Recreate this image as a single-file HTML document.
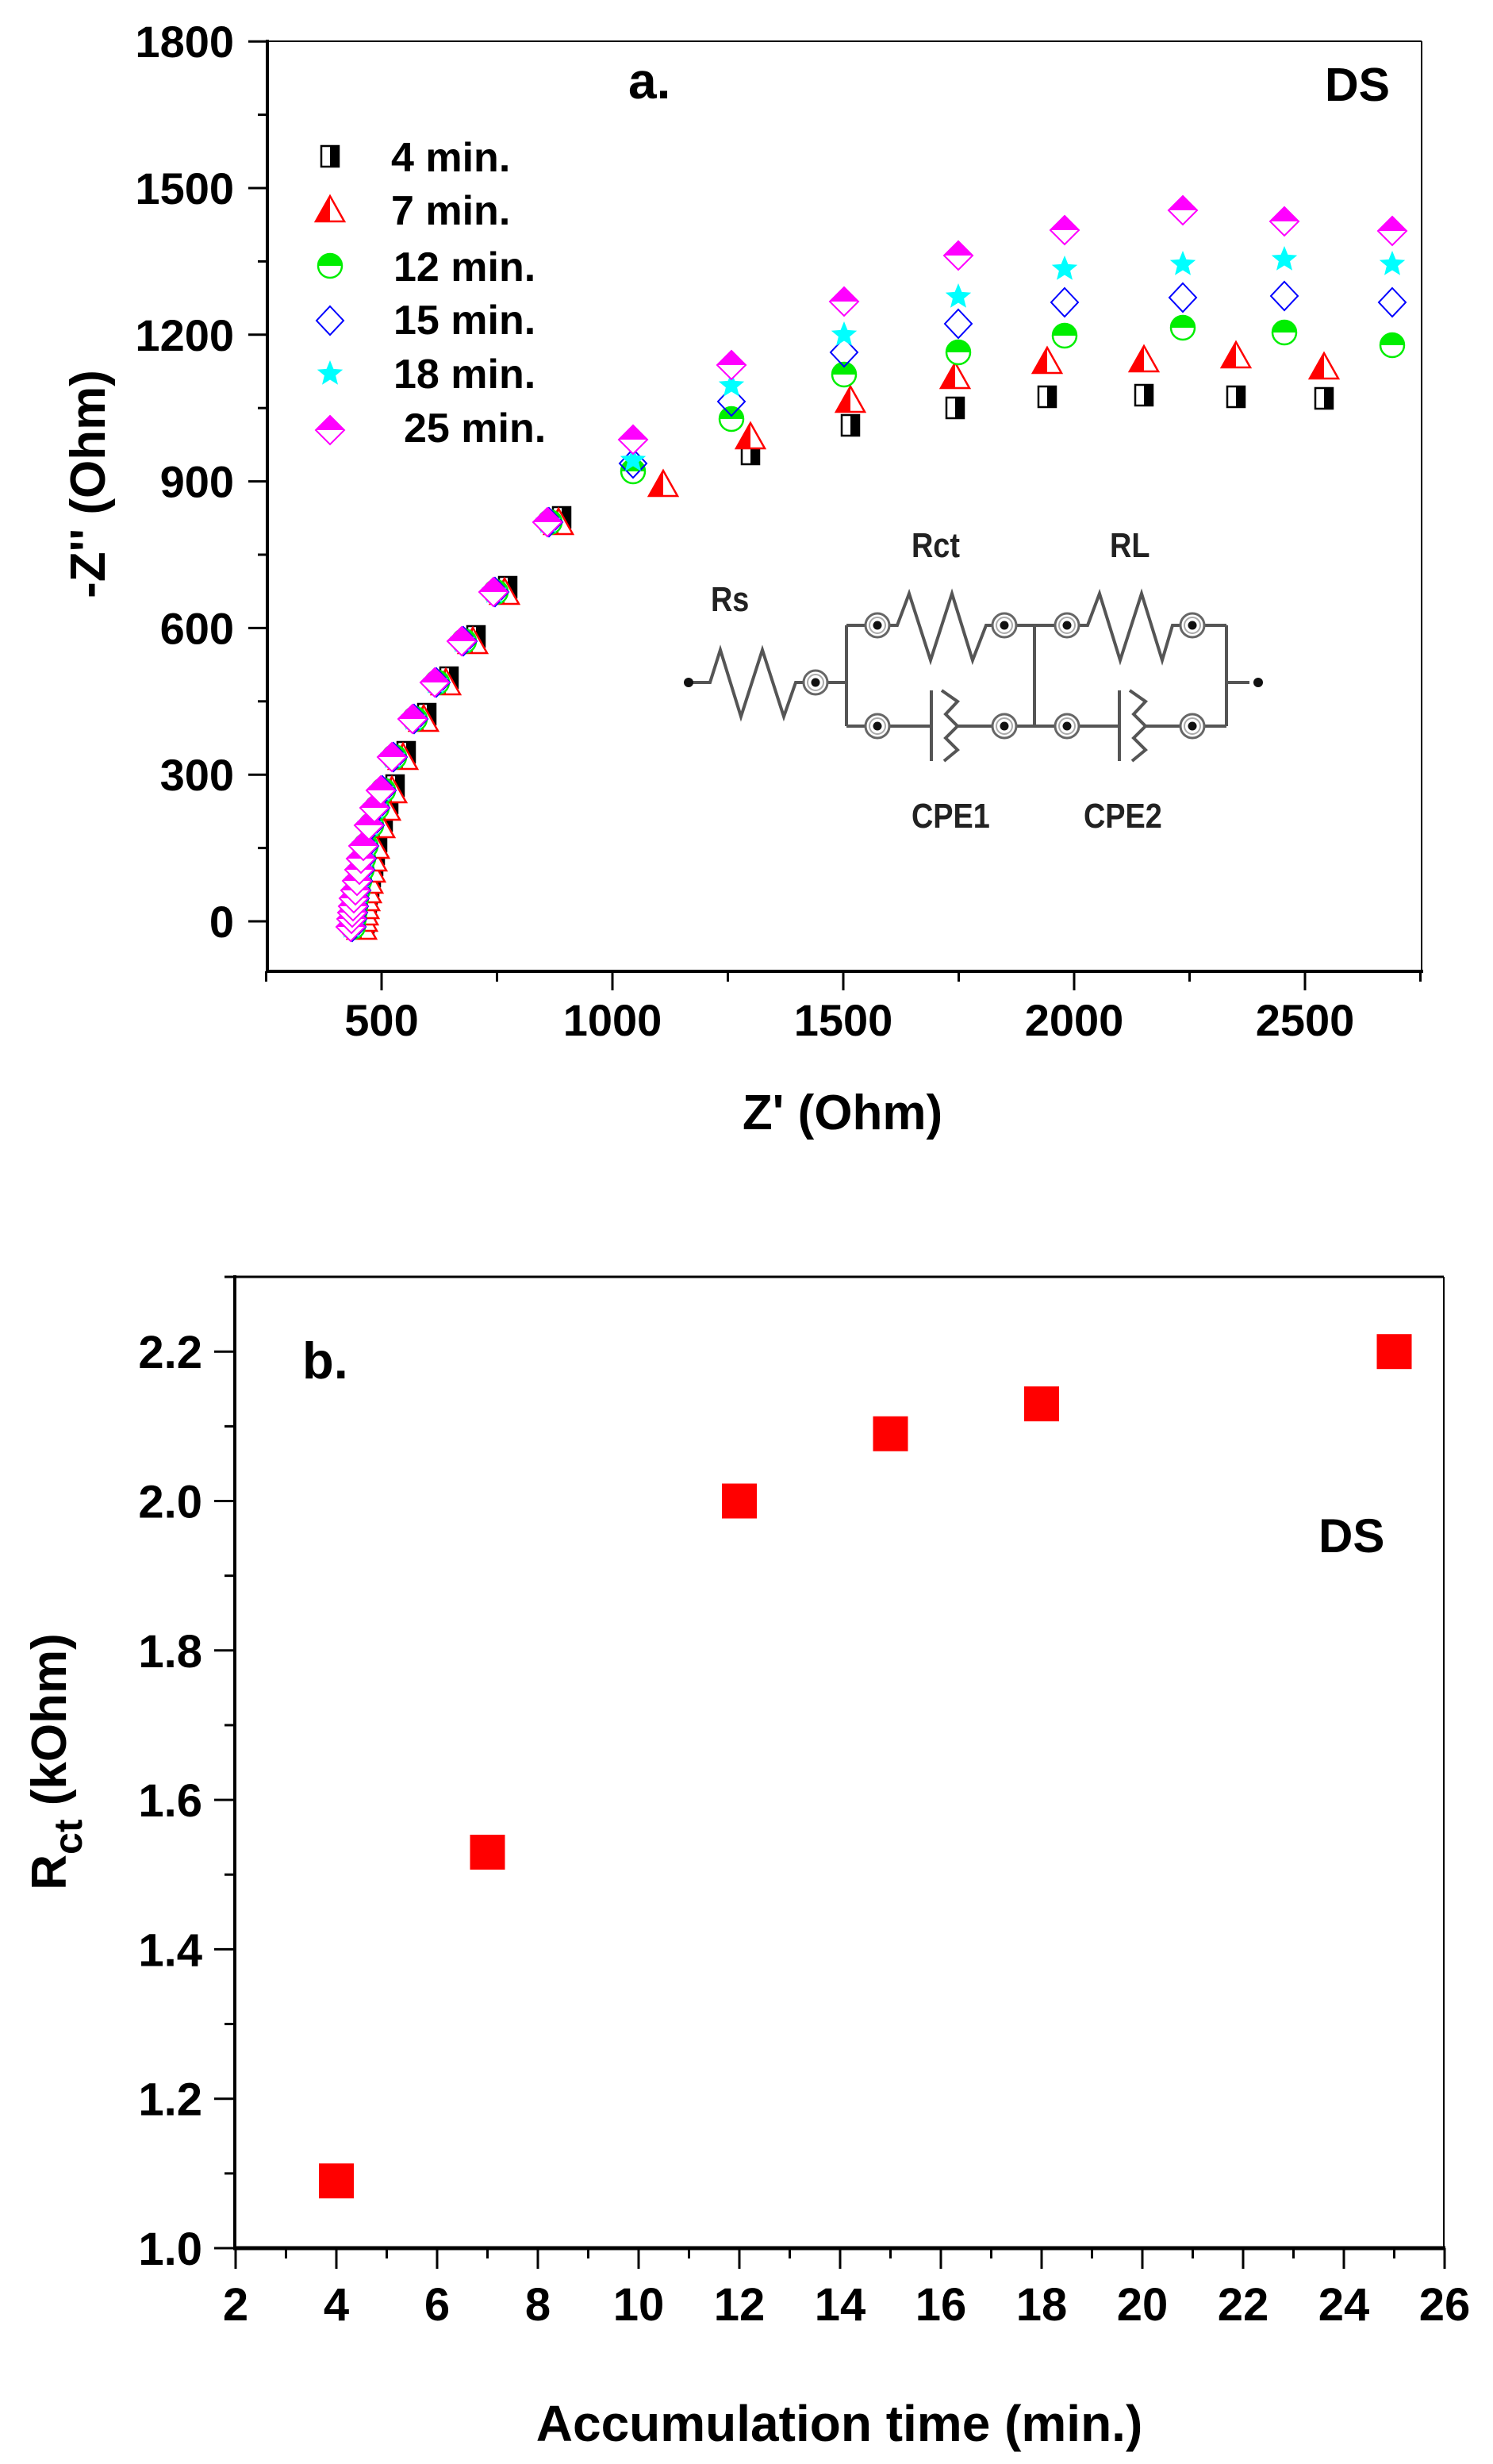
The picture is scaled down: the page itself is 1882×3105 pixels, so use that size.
<!DOCTYPE html>
<html><head><meta charset="utf-8">
<style>
html,body{margin:0;padding:0;background:#fff;}
svg{display:block;}
text{font-family:"Liberation Sans",Arial,sans-serif;font-weight:bold;fill:#000;}
.c text{fill:#222;}
</style></head>
<body>
<svg id="s" width="1882" height="3105" viewBox="0 0 1882 3105" xmlns="http://www.w3.org/2000/svg">
<rect width="1882" height="3105" fill="#fff"/>
<line x1="337" y1="52" x2="1792" y2="52" stroke="#000" stroke-width="2"/>
<line x1="1792" y1="52" x2="1792" y2="1224" stroke="#000" stroke-width="2"/>
<line x1="337" y1="50" x2="337" y2="1226" stroke="#000" stroke-width="4"/>
<line x1="335" y1="1224" x2="1794" y2="1224" stroke="#000" stroke-width="4"/>
<g id="topticks"></g>
<text x="792" y="124" font-size="64">a.</text>
<text x="1670" y="127" font-size="59">DS</text>
<text transform="translate(132,610) rotate(-90)" text-anchor="middle" font-size="62">-Z'' (Ohm)</text>
<text x="1062" y="1423" text-anchor="middle" font-size="62">Z' (Ohm)</text>
<text x="493" y="216" font-size="52">4 min.</text>
<text x="493" y="283" font-size="52">7 min.</text>
<text x="496" y="354" font-size="52">12 min.</text>
<text x="496" y="421" font-size="52">15 min.</text>
<text x="496" y="489" font-size="52">18 min.</text>
<text x="509" y="557" font-size="52">25 min.</text>
<g class="c" fill="none" stroke="#555" stroke-width="4" stroke-linejoin="miter">
<polyline points="868,860 895,860 908,819 934,903 961,819 988,903 1003,860 1013,860"/>
<line x1="1043" y1="860" x2="1067" y2="860"/>
<line x1="1067" y1="788" x2="1067" y2="915"/>
<line x1="1067" y1="788" x2="1091" y2="788"/>
<polyline points="1121,788 1131,788 1146,748 1173,832 1200,748 1226,832 1243,788 1251,788"/>
<line x1="1281" y1="788" x2="1330" y2="788"/>
<line x1="1067" y1="915" x2="1091" y2="915"/>
<line x1="1121" y1="915" x2="1174" y2="915"/>
<line x1="1174" y1="870" x2="1174" y2="959"/>
<polyline points="1187,870 1207,884 1192,900 1207,915 1192,930 1207,945 1190,959"/>
<line x1="1205" y1="915" x2="1251" y2="915"/>
<line x1="1281" y1="915" x2="1330" y2="915"/>
<line x1="1304" y1="788" x2="1304" y2="915"/>
<polyline points="1360,788 1371,788 1386,748 1412,832 1439,748 1465,832 1478,788 1488,788"/>
<line x1="1518" y1="788" x2="1546" y2="788"/>
<line x1="1360" y1="915" x2="1411" y2="915"/>
<line x1="1411" y1="870" x2="1411" y2="959"/>
<polyline points="1424,870 1444,884 1429,900 1444,915 1429,930 1444,945 1427,959"/>
<line x1="1442" y1="915" x2="1488" y2="915"/>
<line x1="1518" y1="915" x2="1546" y2="915"/>
<line x1="1546" y1="788" x2="1546" y2="915"/>
<line x1="1546" y1="860" x2="1575" y2="860"/>
<g id="nodes"></g>
</g>
<circle cx="868" cy="860" r="6" fill="#111"/>
<circle cx="1586" cy="860" r="6" fill="#111"/>
<g class="c">
<text x="896" y="770" font-size="44" transform="translate(896,0) scale(0.86,1) translate(-896,0)">Rs</text>
<text x="1149" y="702" font-size="44" transform="translate(1149,0) scale(0.86,1) translate(-1149,0)">Rct</text>
<text x="1399" y="702" font-size="44" transform="translate(1399,0) scale(0.86,1) translate(-1399,0)">RL</text>
<text x="1149" y="1043" font-size="44" transform="translate(1149,0) scale(0.86,1) translate(-1149,0)">CPE1</text>
<text x="1366" y="1043" font-size="44" transform="translate(1366,0) scale(0.86,1) translate(-1366,0)">CPE2</text>
</g>
<g id="markers"></g>

<line x1="296" y1="1609" x2="1820" y2="1609" stroke="#000" stroke-width="3"/>
<line x1="1820" y1="1609" x2="1820" y2="2833" stroke="#000" stroke-width="2"/>
<line x1="296" y1="1607" x2="296" y2="2835" stroke="#000" stroke-width="4"/>
<line x1="294" y1="2833" x2="1822" y2="2833" stroke="#000" stroke-width="5"/>
<g id="botticks"></g>
<text x="381" y="1737" font-size="65">b.</text>
<text x="1662" y="1956" font-size="60">DS</text>
<text transform="translate(83,2220) rotate(-90)" text-anchor="middle" font-size="62">R<tspan font-size="50" dy="20">ct</tspan><tspan dy="-20"> (kOhm)</tspan></text>
<text x="1058" y="3076" text-anchor="middle" font-size="64">Accumulation time (min.)</text>
<g id="bm"></g>
</svg>
<script>
var NS="http://www.w3.org/2000/svg";
function el(p,t,a,txt){var e=document.createElementNS(NS,t);for(var k in a)e.setAttribute(k,a[k]);if(txt!=null)e.textContent=txt;p.appendChild(e);return e;}
var tt=document.getElementById('topticks');
function tx(v){return 481+(v-500)*0.582;}
function ty(v){return 1161-v*0.616;}
for(var v=250;v<=2750;v+=250){var x=tx(v);var maj=(v%500==0);
 el(tt,'line',{x1:x,y1:1224,x2:x,y2:1224+(maj?24:13),stroke:'#000','stroke-width':3});
 if(maj) el(tt,'text',{x:x,y:1305,'text-anchor':'middle','font-size':56},String(v));}
for(var v=-150;v<=1800;v+=150){var y=ty(v);if(y>1222)continue;var maj=(v%300==0);
 el(tt,'line',{x1:337,y1:y,x2:337-(maj?24:12),y2:y,stroke:'#000','stroke-width':3});
 if(maj) el(tt,'text',{x:295,y:y+20,'text-anchor':'end','font-size':56},String(v));}
var nd=document.getElementById('nodes');
[[1028,860],[1106,788],[1266,788],[1106,915],[1266,915],[1345,788],[1503,788],[1345,915],[1503,915]].forEach(function(p){
 el(nd,'circle',{cx:p[0],cy:p[1],r:15,stroke:'#666','stroke-width':3,fill:'#fff'});
 el(nd,'circle',{cx:p[0],cy:p[1],r:10,stroke:'#aaa','stroke-width':2,fill:'none'});
 el(nd,'circle',{cx:p[0],cy:p[1],r:5.5,fill:'#111',stroke:'none'});});
var mg=document.getElementById('markers');
function sq(x,y){el(mg,'rect',{x:x-11,y:y-13,width:22,height:26,fill:'#fff',stroke:'#000','stroke-width':2.5});el(mg,'rect',{x:x,y:y-13,width:11,height:26,fill:'#000'});}
function tri(x,y){var c='#f00';el(mg,'polygon',{points:(x-18)+','+(y+15)+' '+x+','+(y-17)+' '+(x+18)+','+(y+15),fill:'#fff',stroke:c,'stroke-width':2.5});el(mg,'polygon',{points:(x-18)+','+(y+15)+' '+x+','+(y-17)+' '+x+','+(y+15),fill:c});}
function cir(x,y){var c='#0e0';el(mg,'circle',{cx:x,cy:y,r:15,fill:'#fff',stroke:c,'stroke-width':2.5});el(mg,'path',{d:'M'+(x-15)+','+y+' A15,15 0 0 1 '+(x+15)+','+y+' Z',fill:c});}
function dia(x,y){el(mg,'polygon',{points:x+','+(y-18)+' '+(x+17)+','+y+' '+x+','+(y+18)+' '+(x-17)+','+y,fill:'none',stroke:'#00f','stroke-width':2});}
function star(x,y){var p=[];for(var i=0;i<10;i++){var r=i%2?7.5:17,a=-Math.PI/2+i*Math.PI/5;p.push((x+r*Math.cos(a)).toFixed(1)+','+(y+r*Math.sin(a)).toFixed(1));}el(mg,'polygon',{points:p.join(' '),fill:'#0ff'});}
function mag(x,y){var c='#f0f';el(mg,'polygon',{points:x+','+(y-18)+' '+(x+18)+','+y+' '+x+','+(y+18)+' '+(x-18)+','+y,fill:'#fff',stroke:c,'stroke-width':2});el(mg,'polygon',{points:x+','+(y-18)+' '+(x+18)+','+y+' '+(x-18)+','+y,fill:c});}
sq(416,197);tri(416,264);cir(416,335);dia(416,404);star(416,471);mag(416,542);
var curve=[[442,1168],[443,1158],[444,1150],[445,1142],[446,1132],[448,1122],[450,1110],[453,1096],[455,1082],[458,1066],[465,1040],[472,1018],[480,996],[494,954],[520,906],[548,860],[582,808],[622,746],[690,658]];
var colsA=[798,922,1064,1208,1342,1491,1619,1755];
var M=[554,460,380,322,290,265,279,291],S=[580,486,422,374,339,333,327,333],D=[584,506,444,408,381,375,373,381],G=[594,528,472,444,423,413,419,435];
var colsB=[946,1072,1204,1320,1442,1558,1669];
var R=[550,504,474,455,453,448,462],B=[572,536,514,500,498,500,502];
curve.forEach(function(p){sq(p[0]+18,p[1]-6);});
colsB.forEach(function(x,i){sq(x,B[i]);});
curve.forEach(function(p){tri(p[0]+14,p[1]);});
tri(836,610);
colsB.forEach(function(x,i){tri(x,R[i]);});
curve.forEach(function(p){cir(p[0]+3,p[1]);});colsA.forEach(function(x,i){cir(x,G[i]);});
curve.forEach(function(p){dia(p[0]+2,p[1]);});colsA.forEach(function(x,i){dia(x,D[i]);});
curve.forEach(function(p){star(p[0]+1,p[1]);});colsA.forEach(function(x,i){star(x,S[i]);});
curve.forEach(function(p){mag(p[0],p[1]);});colsA.forEach(function(x,i){mag(x,M[i]);});
var bt=document.getElementById('botticks');
function bx(t){return 297+(t-2)*63.5;}
function by(v){return 2833-(v-1)*941.5;}
for(var t=2;t<=26;t++){var x=bx(t),maj=(t%2==0);
 el(bt,'line',{x1:x,y1:2833,x2:x,y2:2833+(maj?26:13),stroke:'#000','stroke-width':3});
 if(maj) el(bt,'text',{x:x,y:2924,'text-anchor':'middle','font-size':58},String(t));}
for(var k=0;k<=13;k++){var v=1+k*0.1,y=by(v),maj=(k%2==0);
 el(bt,'line',{x1:296,y1:y,x2:296-(maj?26:13),y2:y,stroke:'#000','stroke-width':3});
 if(maj) el(bt,'text',{x:255,y:y+21,'text-anchor':'end','font-size':58},v.toFixed(1));}
var bm=document.getElementById('bm');
[[4,1.09],[7,1.53],[12,2.0],[15,2.09],[18,2.13],[25,2.2]].forEach(function(p){
 el(bm,'rect',{x:bx(p[0])-22,y:by(p[1])-22,width:44,height:44,fill:'#f00'});});
</script>
</body></html>
